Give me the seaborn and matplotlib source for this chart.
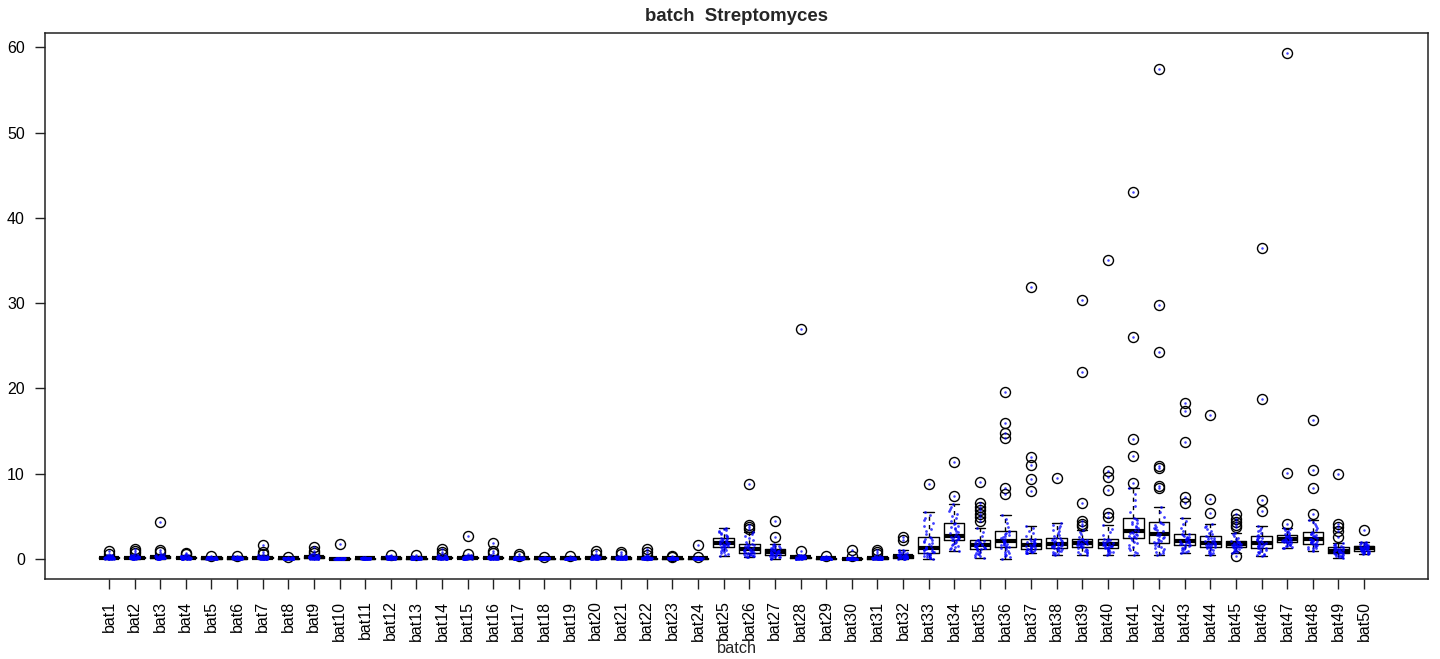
import numpy as np
import pandas as pd
import matplotlib
matplotlib.use("Agg")
import matplotlib.pyplot as plt
import seaborn as sns

# Streptomyces abundance per sequencing batch: box summaries and outlying samples
batches = [f"bat{i}" for i in range(1, 51)]

whisker_low = [0, 0, 0, 0, 0, 0, 0, 0, 0, 0,
               0, 0, 0, 0, 0, 0, 0, 0, 0, 0,
               0, 0, 0, 0, 0.35, 0.19, 0.0, 0, 0, 0,
               0, 0.0, 0.0, 0.9, 0.1, 0.03, 0.62, 0.46, 0.46, 0.5,
               0.46, 0.39, 0.66, 0.43, 0.66, 0.3, 1.25, 0.97, 0.1, 0.54]

lower_quartile = [0.05, 0.06, 0.06, 0.04, 0.03, 0.03, 0.04, 0.01, 0.05, 0.0,
                  0.02, 0.03, 0.02, 0.04, 0.04, 0.04, 0.01, 0.01, 0.01, 0.04,
                  0.03, 0.02, 0.01, 0.01, 1.4, 0.66, 0.5, 0.05, 0.02, 0.0,
                  0.02, 0.1, 0.66, 2.15, 1.13, 1.37, 1.09, 1.25, 1.44, 1.29,
                  2.38, 1.8, 1.6, 1.4, 1.37, 1.21, 1.95, 1.76, 0.66, 0.94]

medians = [0.12, 0.14, 0.15, 0.12, 0.08, 0.08, 0.12, 0.04, 0.15, 0.02,
           0.06, 0.1, 0.07, 0.12, 0.1, 0.1, 0.05, 0.04, 0.04, 0.1,
           0.09, 0.07, 0.04, 0.04, 1.8, 1.13, 0.78, 0.15, 0.06, 0.02,
           0.08, 0.3, 1.29, 2.7, 1.6, 2.07, 1.64, 1.76, 1.88, 1.68,
           3.25, 2.93, 2.11, 1.8, 1.68, 1.8, 2.27, 2.27, 0.94, 1.25]

upper_quartile = [0.22, 0.25, 0.28, 0.22, 0.15, 0.15, 0.2, 0.08, 0.28, 0.04,
                  0.1, 0.18, 0.14, 0.22, 0.2, 0.2, 0.1, 0.08, 0.08, 0.2,
                  0.18, 0.14, 0.08, 0.08, 2.4, 1.76, 1.09, 0.25, 0.12, 0.06,
                  0.15, 0.5, 2.6, 4.18, 2.23, 3.28, 2.35, 2.46, 2.35, 2.35,
                  4.81, 4.34, 2.93, 2.65, 2.07, 2.65, 2.77, 3.13, 1.37, 1.52]

whisker_high = [0.45, 0.5, 0.55, 0.45, 0.25, 0.28, 0.4, 0.15, 0.55, 0.08,
                0.16, 0.35, 0.28, 0.45, 0.4, 0.4, 0.2, 0.15, 0.15, 0.4,
                0.38, 0.3, 0.15, 0.15, 3.6, 3.1, 1.68, 0.5, 0.22, 0.12,
                0.3, 1.05, 5.44, 6.38, 3.64, 5.08, 3.9, 4.18, 3.36, 3.91,
                8.33, 6.02, 4.77, 4.1, 3.05, 3.8, 3.6, 4.5, 1.84, 2.0]

outliers = [
    [0.6, 0.9], [0.65, 0.9, 1.1], [0.75, 1.0, 4.3], [0.55, 0.7], [0.35],
    [0.38], [0.55, 0.85, 1.6], [0.22], [0.7, 0.9, 1.4], [1.7],
    [], [0.5], [0.4], [0.6, 0.85, 1.2], [0.6, 2.7],
    [0.7, 0.95, 1.8], [0.35, 0.6], [0.25], [0.3], [0.6, 0.9],
    [0.55, 0.85], [0.5, 0.8, 1.1], [0.25, 0.35], [0.22, 1.6], [],
    [3.5, 3.75, 4.0, 8.8], [2.5, 4.4], [0.9, 27.0], [0.35], [0.35, 1.05],
    [0.55, 0.8, 1.0], [2.2, 2.6], [8.8], [7.35, 11.3],
    [4.4, 4.9, 5.3, 5.7, 6.1, 6.5, 9.0],
    [7.6, 8.3, 14.2, 14.8, 15.9, 19.6],
    [8.0, 9.4, 11.0, 11.9, 31.9], [9.5],
    [3.8, 4.1, 4.4, 6.5, 21.9, 30.3],
    [4.9, 5.4, 8.1, 9.6, 10.3, 35.1],
    [8.9, 12.0, 14.0, 26.0, 43.0],
    [8.3, 8.5, 10.6, 10.9, 24.2, 29.8, 57.4],
    [6.5, 7.3, 13.7, 17.3, 18.3], [5.4, 7.0, 16.9],
    [0.3, 3.7, 4.0, 4.3, 4.7, 5.2], [5.55, 6.9, 18.8, 36.5],
    [4.05, 10.05, 59.3], [5.25, 8.3, 10.45, 16.3],
    [2.6, 3.25, 3.7, 4.1, 10.0], [3.36],
]

# Long-form table: 41 observations per batch whose quartiles land exactly on
# the summary values (indices 0, 10, 20, 30, 40 of the sorted sample).
K = 10
records = []
for name, lo, q1, med, q3, hi, outs in zip(batches, whisker_low, lower_quartile,
                                           medians, upper_quartile, whisker_high,
                                           outliers):
    low_out = sorted(v for v in outs if v < q1)
    high_out = sorted(v for v in outs if v > q3)
    first = len(low_out)
    last = 4 * K - len(high_out)
    idx = np.arange(first, last + 1)
    core = np.interp(idx, [first, K, 2 * K, 3 * K, last], [lo, q1, med, q3, hi])
    for v in low_out:
        records.append((name, v, True))
    for v in core:
        records.append((name, float(v), False))
    for v in high_out:
        records.append((name, v, True))

df = pd.DataFrame(records, columns=["batch", "value", "outlier"])

sns.set_style("ticks")
plt.rcParams["font.family"] = ["Liberation Sans", "DejaVu Sans"]

fig = plt.figure(figsize=(14.4, 6.59), dpi=100)
ax = fig.add_axes([45 / 1440, 1 - 579 / 659, (1428 - 45) / 1440, (579 - 33) / 659])

sns.boxplot(
    data=df, x="batch", y="value", order=batches, ax=ax,
    fill=False, color="black", linewidth=1, width=0.8, whis=1.5,
    medianprops=dict(linewidth=3, color="black", solid_capstyle="butt"),
    whiskerprops=dict(linestyle=(0, (3, 3)), color="black", linewidth=1),
    capprops=dict(color="black", linewidth=1),
    boxprops=dict(color="black", linewidth=1),
    flierprops=dict(marker="o", markersize=7.2, markerfacecolor="none",
                    markeredgecolor="black", markeredgewidth=1),
)

np.random.seed(7)
sns.stripplot(data=df[~df["outlier"]], x="batch", y="value", order=batches,
              ax=ax, color="#0000ff", size=2.0, jitter=0.2, linewidth=0,
              alpha=0.75, zorder=5)
sns.stripplot(data=df[df["outlier"]], x="batch", y="value", order=batches,
              ax=ax, color="#0000ff", size=1.8, jitter=False, linewidth=0,
              alpha=0.75, zorder=5)

vmin, vmax = df["value"].min(), df["value"].max()
pad = 0.04 * (vmax - vmin)
ax.set_ylim(vmin - pad, vmax + pad)
ax.set_xlim(-2.5, len(batches) + 1.5)
ax.set_yticks([0, 10, 20, 30, 40, 50, 60])

for side in ["left", "right", "top", "bottom"]:
    ax.spines[side].set_visible(True)
    ax.spines[side].set_color("#222222")
    ax.spines[side].set_linewidth(1.1)

ax.tick_params(axis="both", direction="out", length=7, width=1, color="#222222",
               labelsize=11.5, labelcolor="black")
ax.tick_params(axis="y", pad=7.5)
ax.tick_params(axis="x", pad=8.5, labelrotation=90)

ax.set_ylabel("")
ax.set_xlabel("batch", fontsize=11.8)
ax.xaxis.label.set_verticalalignment("baseline")
ax.xaxis.set_label_coords(0.5, (579 - 652.7) / 546)

ax.set_title("batch  Streptomyces", fontsize=13.4, fontweight="bold", pad=8.9)
ax.grid(False)

fig.savefig("out.png", dpi=100)
